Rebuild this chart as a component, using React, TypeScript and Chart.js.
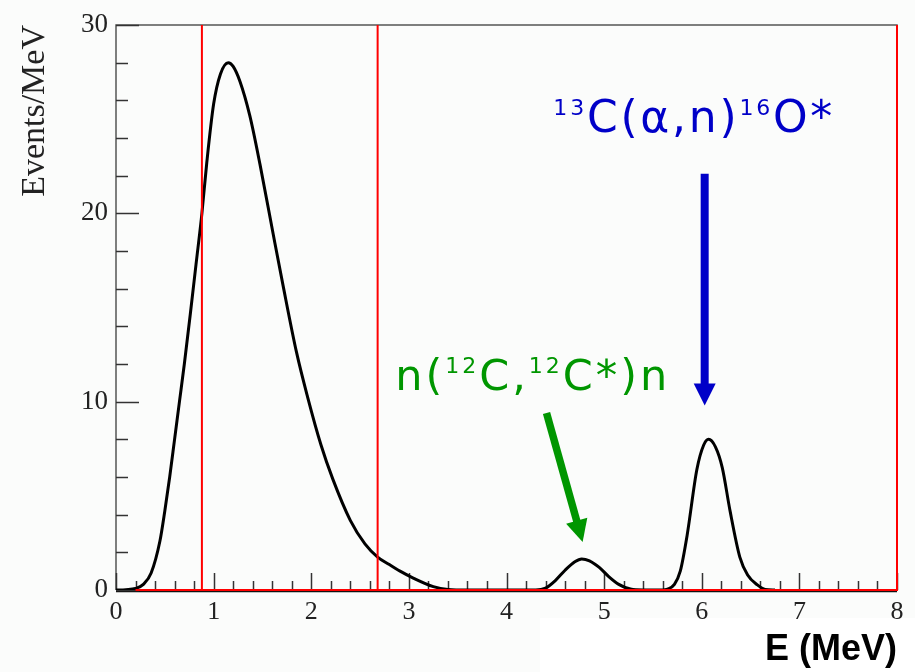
import React, { useEffect, useRef } from "react";
import { Chart, registerables } from "chart.js";

Chart.register(...registerables);

// Spectrum (E in MeV, Events/MeV)
const energy = [
  0.0, 0.1, 0.2, 0.28, 0.36, 0.45, 0.5, 0.55, 0.6, 0.65, 0.7, 0.76, 0.82, 0.88, 0.93, 1.0, 1.07,
  1.15, 1.2, 1.27, 1.37, 1.475, 1.61, 1.71, 1.85, 1.96, 2.1, 2.22, 2.4, 2.55, 2.68, 2.8, 2.91, 3.05,
  3.25, 3.4, 3.6, 4.3, 4.4, 4.5, 4.6, 4.7, 4.77, 4.85, 4.95, 5.05, 5.15, 5.27, 5.4, 5.6, 5.65, 5.72,
  5.78, 5.85, 5.95, 6.02, 6.07, 6.14, 6.21, 6.29, 6.39, 6.47, 6.57, 6.65, 6.75,
];
const events = [
  0.0, 0.02, 0.08, 0.3, 0.9, 2.6, 4.2, 6.0, 8.0, 10.0, 12.0, 14.6, 17.3, 20.0, 22.7, 25.8, 27.4,
  28.0, 27.8, 27.0, 25.2, 22.6, 18.9, 16.2, 12.6, 10.3, 7.7, 5.9, 3.7, 2.45, 1.75, 1.35, 1.0, 0.62,
  0.18, 0.03, 0.0, 0.0, 0.1, 0.5, 1.05, 1.5, 1.65, 1.55, 1.2, 0.7, 0.3, 0.05, 0.0, 0.0, 0.05, 0.3,
  1.0, 2.9, 6.4, 7.7, 8.0, 7.6, 6.5, 4.2, 1.75, 0.8, 0.27, 0.03, 0.0,
];

// Red cut lines (MeV)
const cutLines = [0.88, 2.68];
// Red reference histogram outline: baseline at 0 and right edge
const refX = [0.2, 8, 8];
const refY = [0, 0, 30];

const xTickLabels = ["0", "1", "2", "3", "4", "5", "6", "7", "8"];
const yTickLabels = ["0", "10", "20", "30"];

// Annotations
const blueLabel = [
  { t: "13", sup: true },
  { t: "C(α,n)" },
  { t: "16", sup: true },
  { t: "O*" },
];
const greenLabel = [
  { t: "n(" },
  { t: "12", sup: true },
  { t: "C," },
  { t: "12", sup: true },
  { t: "C*)n" },
];
// arrows: [xStart, yStart, xTip, yTip] in data units
const blueArrow = [6.03, 22.1, 6.03, 9.8];
const greenArrow = [4.41, 9.4, 4.78, 2.55];
// label anchors: [xLeft, yBaseline] in data units
const blueLabelPos = [4.48, 24.3];
const greenLabelPos = [2.86, 10.6];

const BLUE = "#0000c8";
const GREEN = "#009600";
const SERIF = '"Liberation Serif", "Times New Roman", serif';
const ANNOT_FONT = '"DejaVu Sans", sans-serif';

type Seg = { t: string; sup?: boolean };

function drawRich(
  ctx: CanvasRenderingContext2D,
  segs: Seg[],
  x: number,
  y: number,
  color: string,
  size: number,
  targetWidth: number
) {
  const supSize = Math.round(size * 0.5);
  const chars: { c: string; sup: boolean; w: number }[] = [];
  for (const s of segs) {
    ctx.font = `${s.sup ? supSize : size}px ${ANNOT_FONT}`;
    for (const c of Array.from(s.t)) {
      chars.push({ c, sup: !!s.sup, w: ctx.measureText(c).width });
    }
  }
  const natural = chars.reduce((a, b) => a + b.w, 0);
  const gap = chars.length > 1 ? (targetWidth - natural) / (chars.length - 1) : 0;
  ctx.fillStyle = color;
  ctx.textBaseline = "alphabetic";
  ctx.textAlign = "left";
  let cx = x;
  for (const ch of chars) {
    ctx.font = `${ch.sup ? supSize : size}px ${ANNOT_FONT}`;
    ctx.fillText(ch.c, cx, ch.sup ? y - size * 0.4 : y);
    cx += ch.w + gap;
  }
}

function drawArrow(
  ctx: CanvasRenderingContext2D,
  x1: number,
  y1: number,
  x2: number,
  y2: number,
  color: string,
  width: number,
  headLen: number,
  headHalf: number
) {
  const ang = Math.atan2(y2 - y1, x2 - x1);
  const bx = x2 - headLen * Math.cos(ang);
  const by = y2 - headLen * Math.sin(ang);
  ctx.save();
  ctx.strokeStyle = color;
  ctx.fillStyle = color;
  ctx.lineWidth = width;
  ctx.lineCap = "butt";
  ctx.beginPath();
  ctx.moveTo(x1, y1);
  ctx.lineTo(bx + Math.cos(ang) * 2, by + Math.sin(ang) * 2);
  ctx.stroke();
  ctx.beginPath();
  ctx.moveTo(x2, y2);
  ctx.lineTo(bx + headHalf * Math.sin(ang), by - headHalf * Math.cos(ang));
  ctx.lineTo(bx - headHalf * Math.sin(ang), by + headHalf * Math.cos(ang));
  ctx.closePath();
  ctx.fill();
  ctx.restore();
}

const backgroundPlugin = {
  id: "bg",
  beforeDraw(chart: any) {
    const { ctx, width, height } = chart;
    ctx.save();
    ctx.fillStyle = "#fbfcfb";
    ctx.fillRect(0, 0, width, height);
    ctx.fillStyle = "#ffffff";
    ctx.fillRect(540, 618, width - 540, height - 618);
    ctx.restore();
  },
};

const framePlugin = {
  id: "frame",
  beforeDatasetsDraw(chart: any) {
    const { ctx, chartArea: a, scales } = chart;
    const xs = scales.x;
    const ys = scales.y;
    ctx.save();
    ctx.lineWidth = 1.5;
    ctx.strokeStyle = "#555";
    ctx.beginPath();
    ctx.moveTo(a.left, a.bottom);
    ctx.lineTo(a.left, a.top);
    ctx.lineTo(a.right, a.top);
    ctx.lineTo(a.right, a.bottom);
    ctx.stroke();
    ctx.strokeStyle = "#111";
    ctx.lineWidth = 1.5;
    ctx.beginPath();
    ctx.moveTo(a.left, a.bottom + 1.5);
    ctx.lineTo(a.right, a.bottom + 1.5);
    ctx.stroke();
    // y ticks (inside)
    ctx.lineWidth = 1.5;
    ctx.strokeStyle = "#333";
    for (let v = 0; v <= 30; v += 2) {
      const py = Math.round(ys.getPixelForValue(v)) + 0.5;
      const len = v % 10 === 0 ? 23 : 12;
      ctx.beginPath();
      ctx.moveTo(a.left, py);
      ctx.lineTo(a.left + len, py);
      ctx.stroke();
    }
    // x ticks (inside)
    for (let i = 0; i <= 40; i++) {
      const v = i * 0.2;
      const px = Math.round(xs.getPixelForValue(v)) + 0.5;
      const len = i % 5 === 0 ? 17 : 9;
      ctx.beginPath();
      ctx.moveTo(px, a.bottom);
      ctx.lineTo(px, a.bottom - len);
      ctx.stroke();
    }
    ctx.restore();
  },
};

const annotationPlugin = {
  id: "annot",
  afterDatasetsDraw(chart: any) {
    const { ctx, scales } = chart;
    const xs = scales.x;
    const ys = scales.y;
    const P = (x: number, y: number) => [xs.getPixelForValue(x), ys.getPixelForValue(y)];
    ctx.save();
    const [bx1, by1] = P(blueArrow[0], blueArrow[1]);
    const [bx2, by2] = P(blueArrow[2], blueArrow[3]);
    drawArrow(ctx, bx1, by1, bx2, by2, BLUE, 8, 22, 11);
    const [gx1, gy1] = P(greenArrow[0], greenArrow[1]);
    const [gx2, gy2] = P(greenArrow[2], greenArrow[3]);
    drawArrow(ctx, gx1, gy1, gx2, gy2, GREEN, 7.5, 22, 11);
    const [blx, bly] = P(blueLabelPos[0], blueLabelPos[1]);
    drawRich(ctx, blueLabel, blx, bly, BLUE, 44, 279);
    const [glx, gly] = P(greenLabelPos[0], greenLabelPos[1]);
    drawRich(ctx, greenLabel, glx, gly, GREEN, 43, 272);
    ctx.restore();
  },
};

export default function App() {
  const ref = useRef<HTMLCanvasElement | null>(null);
  useEffect(() => {
    if (!ref.current) return;
    const curve = energy.map((x, i) => ({ x, y: events[i] }));
    const ref1 = refX.map((x, i) => ({ x, y: refY[i] }));
    const cutSets = cutLines.map((c) => ({
      data: [
        { x: c, y: 0 },
        { x: c, y: 30 },
      ],
      borderColor: "#ff0000",
      borderWidth: 2,
      pointRadius: 0,
      tension: 0,
    }));
    const chart = new Chart(ref.current, {
      type: "line",
      data: {
        datasets: [
          {
            data: ref1,
            borderColor: "#ff0000",
            borderWidth: 2,
            pointRadius: 0,
            tension: 0,
            clip: 4,
          },
          ...cutSets,
          {
            data: curve,
            borderColor: "#000000",
            borderWidth: 3,
            pointRadius: 0,
            cubicInterpolationMode: "monotone",
          },
        ] as any,
      },
      options: {
        animation: false,
        responsive: false,
        events: [],
        layout: { padding: { left: 0, top: 25, right: 18, bottom: 0 } },
        plugins: { legend: { display: false }, tooltip: { enabled: false } },
        scales: {
          x: {
            type: "linear",
            min: 0,
            max: 8,
            grid: { display: false, drawTicks: false },
            border: { display: false },
            afterFit: (s: any) => {
              s.height = 82;
            },
            afterBuildTicks: (s: any) => {
              s.ticks = xTickLabels.map((l) => ({ value: Number(l) }));
            },
            ticks: {
              padding: 7,
              maxRotation: 0,
              color: "#222",
              font: { family: SERIF, size: 26 },
              callback: (v: any) => xTickLabels[Number(v)] ?? "",
            },
            title: {
              display: true,
              text: "E (MeV)",
              align: "end",
              color: "#000",
              font: { family: '"Liberation Sans", Arial, sans-serif', size: 36, weight: "bold" },
              padding: { top: 0, bottom: 0 },
            },
          },
          y: {
            type: "linear",
            min: 0,
            max: 30,
            grid: { display: false, drawTicks: false },
            border: { display: false },
            afterFit: (s: any) => {
              s.width = 116;
            },
            afterBuildTicks: (s: any) => {
              s.ticks = yTickLabels.map((l) => ({ value: Number(l) }));
            },
            ticks: {
              padding: 8,
              color: "#222",
              font: { family: SERIF, size: 27 },
              callback: (v: any) => String(v),
            },
            title: {
              display: true,
              text: "Events/MeV",
              align: "end",
              color: "#222",
              font: { family: SERIF, size: 34 },
              padding: { top: 15, bottom: 0 },
            },
          },
        },
      } as any,
      plugins: [backgroundPlugin, framePlugin, annotationPlugin],
    });
    return () => chart.destroy();
  }, []);
  return (
    <div style={{ position: "absolute", left: 0, top: 0, width: 915, height: 672 }}>
      <canvas ref={ref} width={915} height={672} style={{ display: "block" }} />
    </div>
  );
}
